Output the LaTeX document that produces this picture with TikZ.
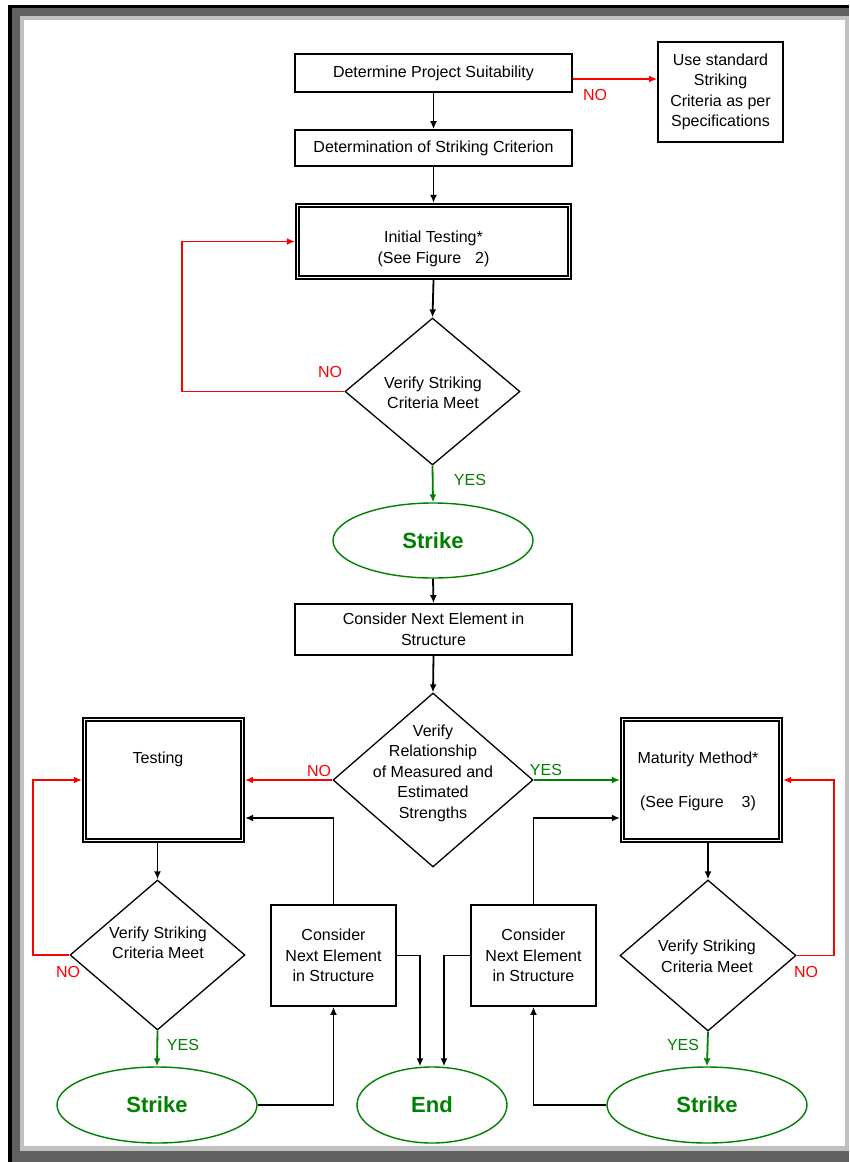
\documentclass[tikz,border=0pt]{standalone}
\usepackage{fontspec}
\setmainfont{Liberation Sans}
\usetikzlibrary{shapes.geometric,arrows.meta,calc}
\definecolor{fgreen}{RGB}{0,128,0}
\definecolor{fred}{RGB}{255,0,0}
\definecolor{darkframe}{RGB}{96,96,96}
\definecolor{lightframe}{RGB}{192,192,192}
\begin{document}
\begin{tikzpicture}[x=1pt,y=-1pt,
  txt/.style={font=\fontsize{16}{20.5}\selectfont, align=center, inner sep=0pt},
  box/.style={rectangle, draw=black, line width=1.7pt, txt},
  dbox/.style={rectangle, draw=black, line width=1.7pt, double, double distance=1.8pt, inner sep=0pt, outer sep=2.6pt},
  diam/.style={diamond, draw=black, line width=1.3pt, inner sep=0pt},
  ell/.style={ellipse, draw=fgreen, line width=1.4pt, inner sep=0pt, text=fgreen, font=\bfseries\fontsize{22}{26}\selectfont},
  blk/.style={line width=1.8pt, draw=black, -{Latex[length=8pt,width=7pt]}},
  redc/.style={blk, draw=fred},
  grnc/.style={blk, draw=fgreen},
  lab/.style={font=\fontsize{16}{20}\selectfont, inner sep=0pt}
]
% frame
\fill[white] (0,0) rectangle (849,1162);
\fill[black] (8,5) rectangle (849,1162);
\fill[darkframe] (12,8) rectangle (849,1162);
\fill[lightframe] (20,16) rectangle (849,1151);
\fill[white] (24,20) rectangle (845,1146);
\useasboundingbox (0,0) rectangle (849,1162);

% nodes
\node[box, minimum width=277, minimum height=38] (box1) at (433.5,73) {Determine Project Suitability};
\node[box, minimum width=125, minimum height=100] (std) at (720.5,92) {Use standard\\Striking\\Criteria as per\\Specifications};
\node[box, minimum width=277, minimum height=36] (box2) at (433.5,148) {Determination of Striking Criterion};
\node[dbox, minimum width=272, minimum height=72] (init) at (433.5,241.5) {};
\node[txt] (initT) at (433.5,249) {Initial Testing*\\(See Figure\hspace{14pt}2)};
\node[diam, minimum width=175, minimum height=147] (d1) at (432.5,391.5) {};
\node[txt] (d1T) at (433,393) {Verify Striking\\Criteria Meet};
\node[ell, minimum width=200, minimum height=75] (s1) at (433,540.5) {Strike};
\node[box, minimum width=277, minimum height=51] (cn) at (433.5,629.5) {Consider Next Element in\\Structure};
\node[diam, minimum width=200, minimum height=174] (d2) at (433,780) {};
\node[txt] (d2T) at (433,773) {Verify\\Relationship\\of Measured and\\Estimated\\Strengths};
\node[dbox, minimum width=158, minimum height=121] (test) at (163.5,780) {};
\node[txt] (testT) at (158,759) {Testing};
\node[dbox, minimum width=158, minimum height=121] (mat) at (701.5,780) {};
\node[txt] (matT1) at (698,759) {Maturity Method*};
\node[txt] (matT2) at (698,803) {(See Figure\hspace{18pt}3)};
\node[diam, minimum width=175, minimum height=150] (d3) at (157.5,955) {};
\node[txt] (d3T) at (158,943) {Verify Striking\\Criteria Meet};
\node[diam, minimum width=176, minimum height=151] (d4) at (708,955.5) {};
\node[txt] (d4T) at (707,956.5) {Verify Striking\\Criteria Meet};
\node[box, minimum width=125, minimum height=101] (cl) at (333.5,955.5) {Consider\\Next Element\\in Structure};
\node[box, minimum width=125, minimum height=101] (cr) at (533.5,955.5) {Consider\\Next Element\\in Structure};
\node[ell, minimum width=200, minimum height=76] (s2) at (157,1105) {Strike};
\node[ell, minimum width=150, minimum height=76] (endn) at (432,1105) {End};
\node[ell, minimum width=200, minimum height=76] (s3) at (707,1105) {Strike};

% labels
\node[lab, text=fred] (no1) at (595,95) {NO};
\node[lab, text=fred] (no2) at (330,372) {NO};
\node[lab, text=fgreen] (yes1) at (470,480) {YES};
\node[lab, text=fred] (no3) at (319,771) {NO};
\node[lab, text=fgreen] (yes2) at (546,770) {YES};
\node[lab, text=fred] (no4) at (68,972) {NO};
\node[lab, text=fgreen] (yes3) at (183,1045) {YES};
\node[lab, text=fred] (no5) at (806,972) {NO};
\node[lab, text=fgreen] (yes4) at (683,1045) {YES};

% helper coordinates
\coordinate (ic) at (182,241.5);
\coordinate (lc) at (33,780);
\coordinate (rc) at (834,780);

% connectors
\draw[blk] (box1.south) -- (box2.north);
\draw[redc] ([yshift=-6pt]box1.east) -- ([yshift=-6pt]box1.east -| std.west);
\draw[blk] (box2.south) -- (init.north);
\draw[blk] (init.south) -- (d1.north);
\draw[redc] (d1.west) -| (ic) -- (init.west);
\draw[grnc] (d1.south) -- (s1.north);
\draw[blk] (s1.south) -- (cn.north);
\draw[blk] (cn.south) -- (d2.north);
\draw[redc] (d2.west) -- (test.east);
\draw[grnc] (d2.east) -- (mat.west);
\draw[blk] (test.south -| d3.north) -- (d3.north);
\draw[redc] (d3.west) -| (lc) -- (test.west);
\draw[grnc] (d3.south) -- (s2.north);
\draw[blk] (s2.east) -| (cl.south);
\draw[blk] (cl.north) |- ([yshift=-38pt]test.east);
\draw[blk] (cl.east) -| ([xshift=-12pt]endn.north);
\draw[blk] (cr.west) -| ([xshift=12pt]endn.north);
\draw[blk] (s3.west) -| (cr.south);
\draw[blk] (cr.north) |- ([yshift=-38pt]mat.west);
\draw[blk] (mat.south -| d4.north) -- (d4.north);
\draw[redc] (d4.east) -| (rc) -- (mat.east);
\draw[grnc] (d4.south) -- (s3.north);
\end{tikzpicture}
\end{document}
